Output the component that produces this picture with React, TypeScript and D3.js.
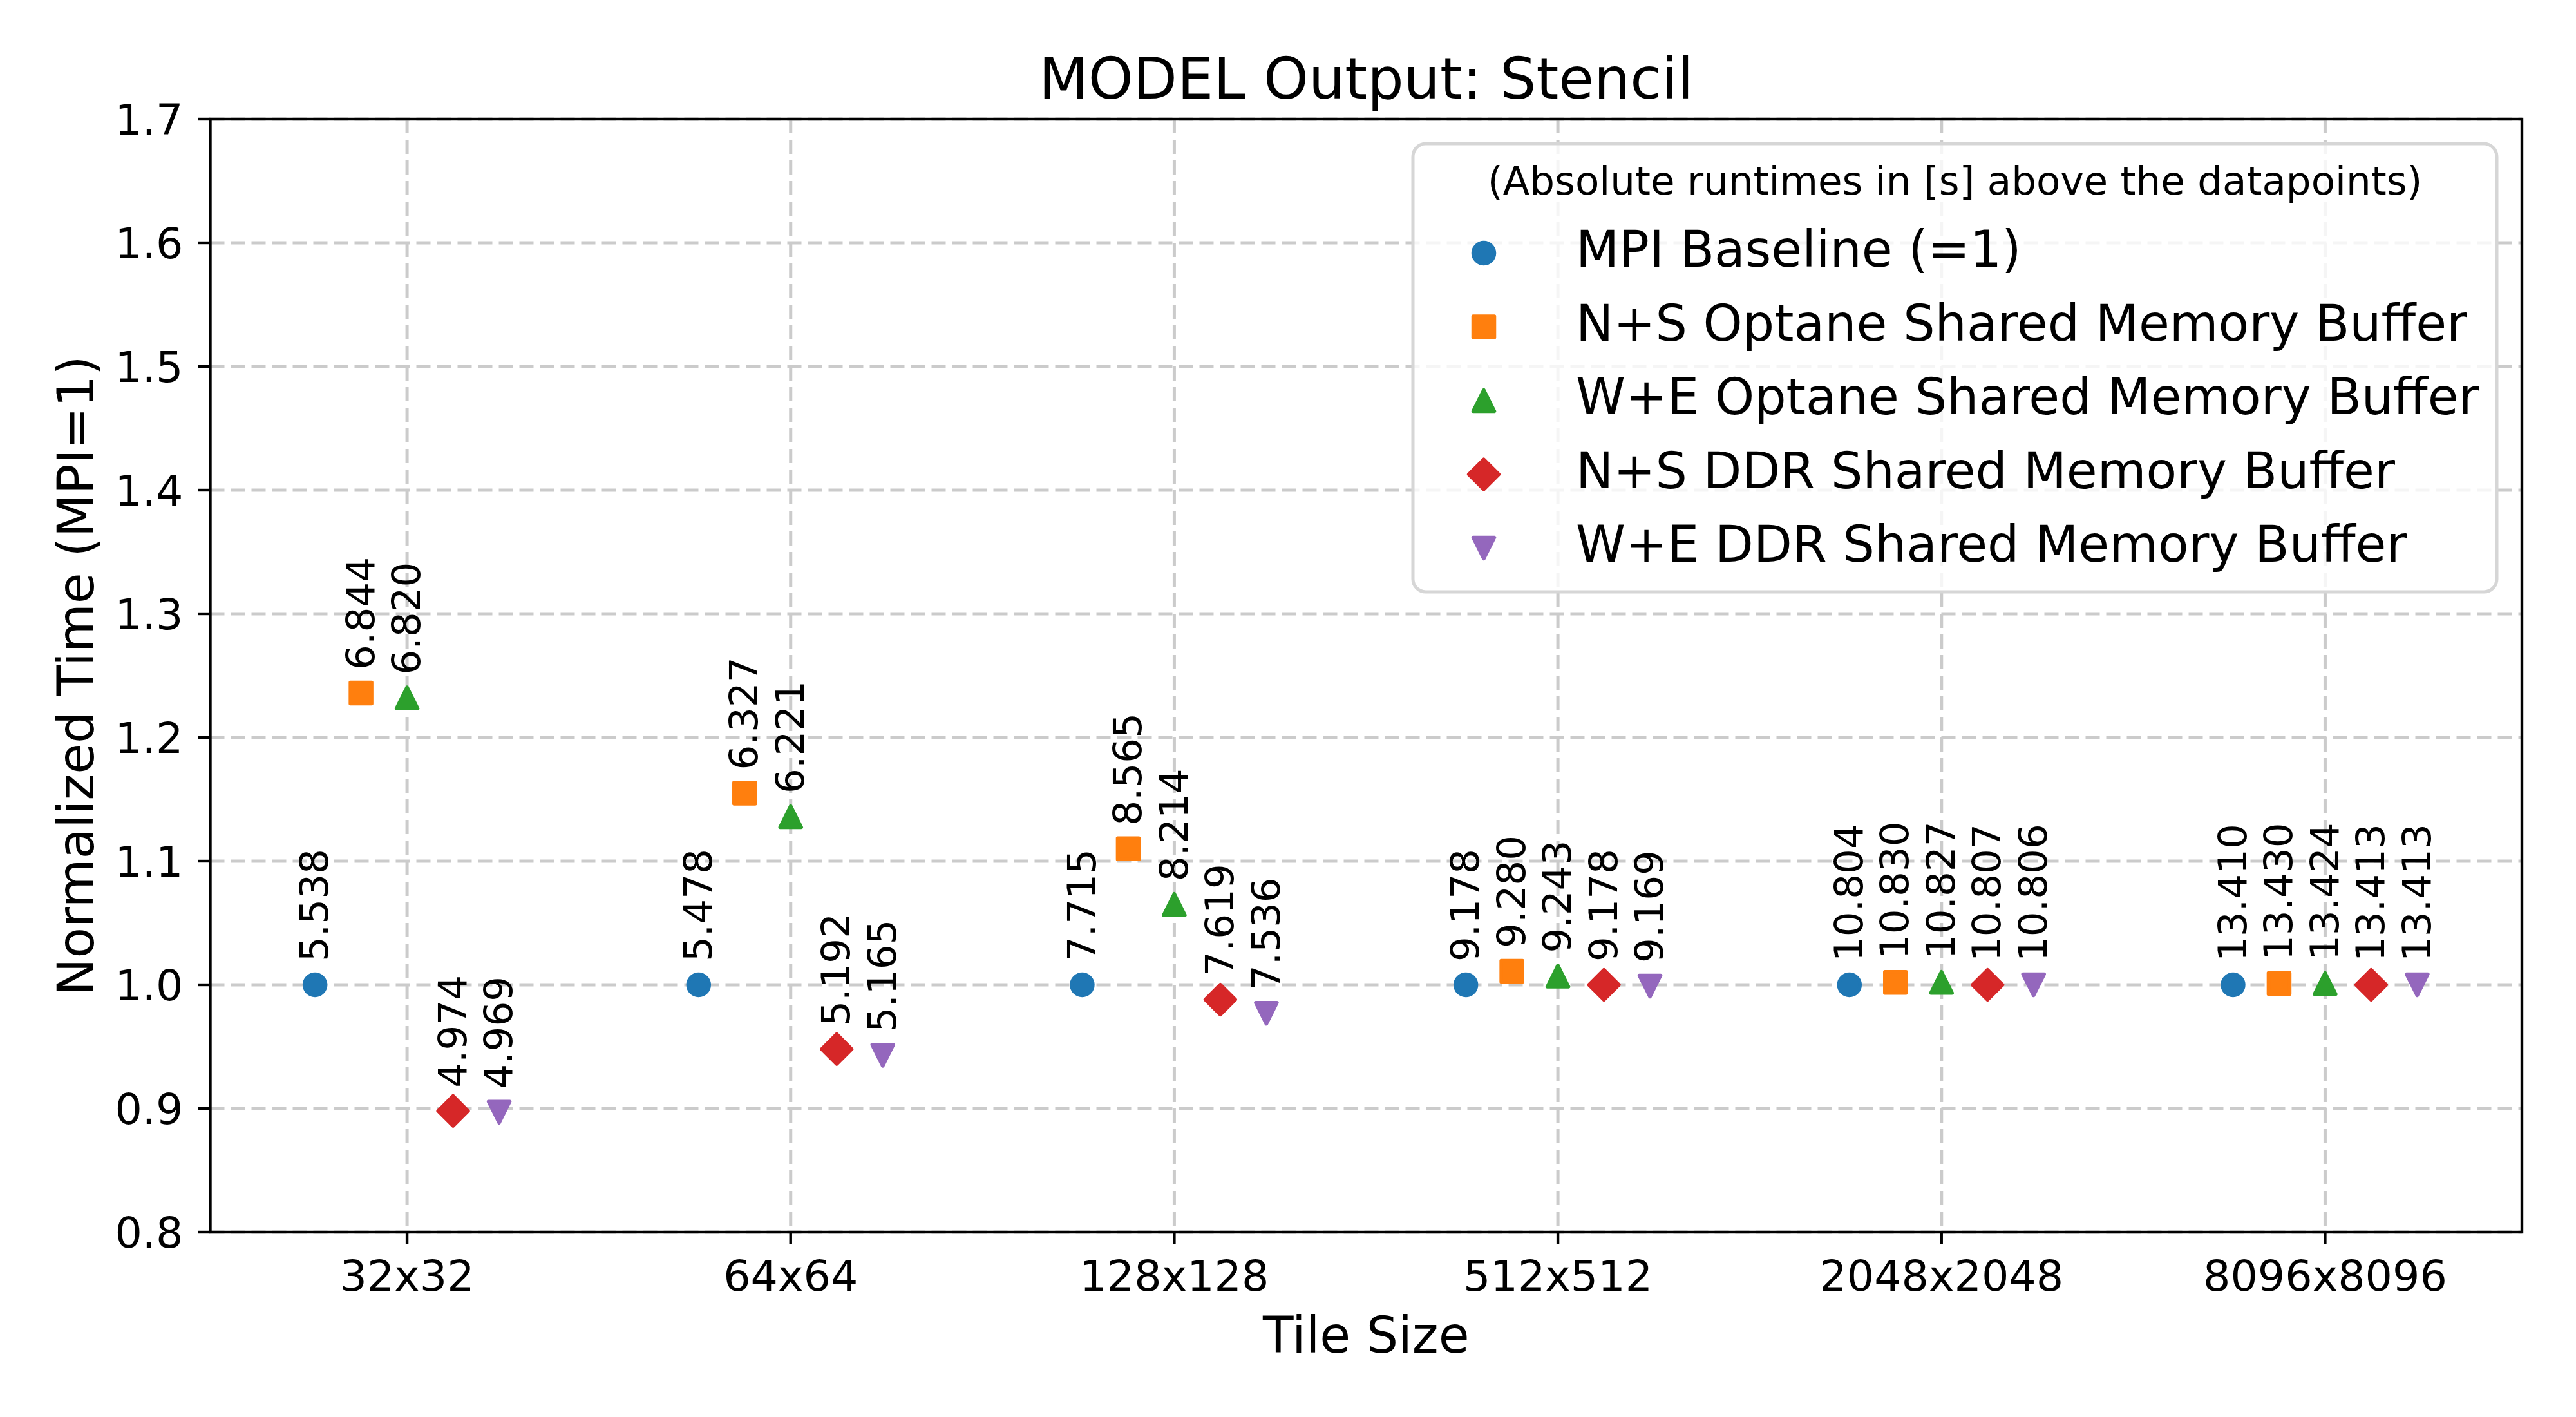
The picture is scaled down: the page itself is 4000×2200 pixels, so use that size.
import * as d3 from "d3";
import { useEffect, useRef } from "react";

// Tile sizes on the x axis
const tileSizes = ["32x32", "64x64", "128x128", "512x512", "2048x2048", "8096x8096"];

// Series names, colours and marker kinds (legend order)
const seriesNames = [
  "MPI Baseline (=1)",
  "N+S Optane Shared Memory Buffer",
  "W+E Optane Shared Memory Buffer",
  "N+S DDR Shared Memory Buffer",
  "W+E DDR Shared Memory Buffer",
];
const seriesColors = ["#1f77b4", "#ff7f0e", "#2ca02c", "#d62728", "#9467bd"];
const seriesMarkers = ["circle", "square", "triangleUp", "diamond", "triangleDown"];

// Normalized time (MPI = 1)
const mpiNorm = [1.0, 1.0, 1.0, 1.0, 1.0, 1.0];
const nsOptaneNorm = [1.236, 1.155, 1.11, 1.011, 1.002, 1.001];
const weOptaneNorm = [1.232, 1.136, 1.065, 1.007, 1.002, 1.001];
const nsDdrNorm = [0.898, 0.948, 0.988, 1.0, 1.0, 1.0];
const weDdrNorm = [0.897, 0.943, 0.977, 0.999, 1.0, 1.0];

// Absolute runtimes in seconds, printed above the points
const mpiRuntime = [5.538, 5.478, 7.715, 9.178, 10.804, 13.41];
const nsOptaneRuntime = [6.844, 6.327, 8.565, 9.28, 10.83, 13.43];
const weOptaneRuntime = [6.82, 6.221, 8.214, 9.243, 10.827, 13.424];
const nsDdrRuntime = [4.974, 5.192, 7.619, 9.178, 10.807, 13.413];
const weDdrRuntime = [4.969, 5.165, 7.536, 9.169, 10.806, 13.413];

const yTicks = [0.8, 0.9, 1.0, 1.1, 1.2, 1.3, 1.4, 1.5, 1.6, 1.7];

const normSeries = [mpiNorm, nsOptaneNorm, weOptaneNorm, nsDdrNorm, weDdrNorm];
const runtimeSeries = [mpiRuntime, nsOptaneRuntime, weOptaneRuntime, nsDdrRuntime, weDdrRuntime];

// horizontal offset of each series inside a group (in category units)
const groupOffsets = [-0.24, -0.12, 0, 0.12, 0.24];

const FONT = "DejaVu Sans, sans-serif";
const GRID = "#cbcbcb";

// matplotlib-like marker outlines, s = marker size in px
function markerPath(kind, s) {
  const h = s / 2;
  if (kind === "circle") return d3.symbol(d3.symbolCircle, Math.PI * h * h)();
  const p = d3.path();
  if (kind === "square") {
    p.rect(-h, -h, s, s);
  } else if (kind === "diamond") {
    const d = s / Math.SQRT2;
    p.moveTo(0, -d); p.lineTo(d, 0); p.lineTo(0, d); p.lineTo(-d, 0); p.closePath();
  } else if (kind === "triangleUp") {
    p.moveTo(0, -h); p.lineTo(h, h); p.lineTo(-h, h); p.closePath();
  } else {
    p.moveTo(0, h); p.lineTo(h, -h); p.lineTo(-h, -h); p.closePath();
  }
  return p.toString();
}

const App = () => {
  const ref = useRef(null);

  useEffect(() => {
    if (ref && ref.current) ref.current.innerHTML = "";

    const width = 4000;
    const height = 2200;
    const left = 326.5, right = 3916, top = 185, bottom = 1913;
    const markerSize = 33;
    const edge = 5.5;

    const x = d3.scaleLinear().domain([-0.513, tileSizes.length - 1 + 0.513]).range([left, right]);
    const y = d3.scaleLinear().domain([0.8, 1.7]).range([bottom, top]);
    const fmt = d3.format(".3f");

    const svg = d3.select(ref.current)
      .attr("width", width)
      .attr("height", height)
      .attr("viewBox", [0, 0, width, height])
      .style("font-family", FONT);

    svg.append("rect").attr("width", width).attr("height", height).attr("fill", "#fff");

    // grid
    const grid = svg.append("g")
      .attr("stroke", GRID)
      .attr("stroke-width", 5)
      .attr("stroke-dasharray", "22,10");
    grid.selectAll("line.h")
      .data(yTicks)
      .join("line")
        .attr("x1", left).attr("x2", right)
        .attr("y1", d => y(d)).attr("y2", d => y(d));
    grid.selectAll("line.v")
      .data(tileSizes)
      .join("line")
        .attr("class", "v")
        .attr("x1", (d, i) => x(i)).attr("x2", (d, i) => x(i))
        .attr("y1", top).attr("y2", bottom);

    // markers
    normSeries.forEach((vals, si) => {
      const g = svg.append("g");
      g.selectAll("path")
        .data(vals)
        .join("path")
          .attr("d", markerPath(seriesMarkers[si], markerSize))
          .attr("transform", (d, i) => `translate(${x(i + groupOffsets[si])},${y(d)})`)
          .attr("fill", seriesColors[si])
          .attr("stroke", seriesColors[si])
          .attr("stroke-width", edge)
          .attr("stroke-linejoin", "round");
    });

    // runtime labels above points
    normSeries.forEach((vals, si) => {
      svg.append("g")
        .selectAll("text")
        .data(vals)
        .join("text")
          .attr("transform", (d, i) => `translate(${x(i + groupOffsets[si])},${y(d) - 36}) rotate(-90)`)
          .attr("dy", "0.33em")
          .attr("font-size", 61.1)
          .attr("fill", "#000")
          .text((d, i) => fmt(runtimeSeries[si][i]));
    });

    // spines
    svg.append("rect")
      .attr("x", left).attr("y", top)
      .attr("width", right - left).attr("height", bottom - top)
      .attr("fill", "none")
      .attr("stroke", "#000")
      .attr("stroke-width", 4.4);

    // y ticks
    const yAxis = svg.append("g");
    yAxis.selectAll("line")
      .data(yTicks)
      .join("line")
        .attr("x1", left - 19).attr("x2", left)
        .attr("y1", d => y(d)).attr("y2", d => y(d))
        .attr("stroke", "#000").attr("stroke-width", 4.4);
    yAxis.selectAll("text")
      .data(yTicks)
      .join("text")
        .attr("x", left - 42)
        .attr("y", d => y(d))
        .attr("dy", "0.36em")
        .attr("text-anchor", "end")
        .attr("font-size", 66.7)
        .text(d => d3.format(".1f")(d));

    // x ticks
    const xAxis = svg.append("g");
    xAxis.selectAll("line")
      .data(tileSizes)
      .join("line")
        .attr("x1", (d, i) => x(i)).attr("x2", (d, i) => x(i))
        .attr("y1", bottom).attr("y2", bottom + 19)
        .attr("stroke", "#000").attr("stroke-width", 4.4);
    xAxis.selectAll("text")
      .data(tileSizes)
      .join("text")
        .attr("x", (d, i) => x(i))
        .attr("y", 2004)
        .attr("text-anchor", "middle")
        .attr("font-size", 66.7)
        .text(d => d);

    // axis titles
    svg.append("text")
      .attr("x", (left + right) / 2).attr("y", 2100)
      .attr("text-anchor", "middle")
      .attr("font-size", 77.8)
      .text("Tile Size");
    svg.append("text")
      .attr("transform", `translate(145,${(top + bottom) / 2}) rotate(-90)`)
      .attr("text-anchor", "middle")
      .attr("font-size", 77.8)
      .text("Normalized Time (MPI=1)");
    svg.append("text")
      .attr("x", (left + right) / 2).attr("y", 153)
      .attr("text-anchor", "middle")
      .attr("font-size", 88.9)
      .text("MODEL Output: Stencil");

    // legend
    const lg = svg.append("g");
    const lx0 = 2194, lx1 = 3877, ly0 = 223, ly1 = 919;
    lg.append("rect")
      .attr("x", lx0).attr("y", ly0)
      .attr("width", lx1 - lx0).attr("height", ly1 - ly0)
      .attr("rx", 20)
      .attr("fill", "rgba(255,255,255,0.8)")
      .attr("stroke", "#d6d6d6")
      .attr("stroke-width", 5);
    lg.append("text")
      .attr("x", (lx0 + lx1) / 2).attr("y", 302)
      .attr("text-anchor", "middle")
      .attr("font-size", 61.1)
      .text("(Absolute runtimes in [s] above the datapoints)");
    const ly = d3.scaleLinear().domain([0, seriesNames.length - 1]).range([414, 872]);
    const entries = lg.selectAll("g.entry")
      .data(seriesNames)
      .join("g")
        .attr("class", "entry")
        .attr("transform", (d, i) => `translate(0,${ly(i)})`);
    entries.append("path")
      .attr("d", (d, i) => markerPath(seriesMarkers[i], markerSize))
      .attr("transform", "translate(2304,-21)")
      .attr("fill", (d, i) => seriesColors[i])
      .attr("stroke", (d, i) => seriesColors[i])
      .attr("stroke-width", edge)
      .attr("stroke-linejoin", "round");
    entries.append("text")
      .attr("x", 2447)
      .attr("font-size", 77.8)
      .text(d => d);
  }, []);

  return <svg ref={ref} style={{ position: "absolute", left: 0, top: 0, display: "block" }} />;
};

export default App;
